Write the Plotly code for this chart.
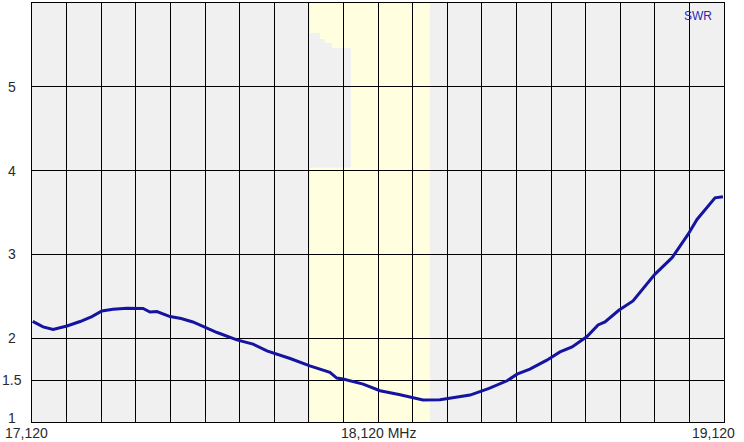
import plotly.graph_objects as go

# Frequency (kHz) and SWR readings
freq_khz = [17122, 17152, 17181, 17221, 17259, 17293, 17322, 17354, 17395, 17441,
            17461, 17481, 17519, 17551, 17585, 17620, 17655, 17712, 17759, 17799,
            17866, 17923, 17981, 18001, 18019, 18077, 18126, 18184, 18221, 18250,
            18299, 18348, 18386, 18441, 18452, 18493, 18522, 18559, 18608, 18646,
            18681, 18704, 18724, 18756, 18776, 18816, 18857, 18920, 18970, 19016,
            19042, 19094, 19117]
swr = [2.20, 2.135, 2.104, 2.146, 2.199, 2.258, 2.325, 2.345, 2.357, 2.354,
       2.313, 2.318, 2.258, 2.235, 2.194, 2.127, 2.068, 1.980, 1.929, 1.849,
       1.758, 1.670, 1.592, 1.524, 1.512, 1.452, 1.373, 1.325, 1.294, 1.262,
       1.265, 1.301, 1.321, 1.401, 1.420, 1.492, 1.571, 1.631, 1.738, 1.837,
       1.896, 1.968, 2.020, 2.158, 2.194, 2.333, 2.444, 2.762, 2.961, 3.238,
       3.417, 3.675, 3.687]

x_range = [17120, 19120]
y_range = [1, 6]
y_tick_vals = [1, 1.5, 2, 3, 4, 5]
y_tick_text = ["1", "1.5", "2", "3", "4", "5"]
x_label_vals = [17120, 18120, 19120]
x_label_text = ["17,120", "18,120 MHz", "19,120"]
band = [17923, 18270]
# gray artefact inside band: (x0, x1, y0, y1)
artefact = [(17923, 18042, 4.036, 5.464), (17923, 17987, 5.46, 5.524),
            (17923, 17967, 5.52, 5.571), (17923, 17952, 5.57, 5.643)]

fig = go.Figure()
fig.add_trace(go.Scatter(x=freq_khz, y=swr, mode="lines",
                         line=dict(color="#1414a0", width=3), hoverinfo="skip"))

shapes = [dict(type="rect", xref="x", yref="y", x0=band[0], x1=band[1],
               y0=y_range[0], y1=y_range[1], fillcolor="#ffffe0",
               line=dict(width=0), layer="below")]
for (a, b, c, d) in artefact:
    shapes.append(dict(type="rect", xref="x", yref="y", x0=a, x1=b, y0=c, y1=d,
                       fillcolor="#f0f0f0", line=dict(width=0), layer="below"))

font = dict(family="Liberation Sans, Arial, sans-serif", size=14, color="#2a2a2a")
annotations = []
for v, t in zip(y_tick_vals, y_tick_text):
    annotations.append(dict(xref="paper", yref="y", x=0, y=v, text=t, showarrow=False,
                            xanchor="center", yanchor="middle", xshift=-20,
                            yshift=4 if v == 1 else 0, font=font))
x_anchor = ["left", "center", "right"]
x_shift = [-29, 0, 13]
for v, t, xa, xs in zip(x_label_vals, x_label_text, x_anchor, x_shift):
    annotations.append(dict(xref="x", yref="paper", x=v, y=0, text=t, showarrow=False,
                            xanchor=xa, yanchor="top", xshift=xs, yshift=-1, font=font))
annotations.append(dict(xref="paper", yref="paper", x=1, y=1, text="SWR", showarrow=False,
                        xanchor="right", yanchor="top", xshift=-10, yshift=-4,
                        font=dict(family="Liberation Sans, Arial, sans-serif", size=12,
                                  color="#2a2ab4")))

fig.update_layout(
    width=744, height=442,
    margin=dict(l=32, r=20, t=3, b=20),
    paper_bgcolor="white", plot_bgcolor="#f0f0f0",
    showlegend=False,
    shapes=shapes, annotations=annotations,
    xaxis=dict(range=x_range, tick0=17120, dtick=100, showgrid=True,
               gridcolor="black", gridwidth=1, showticklabels=False, ticks="",
               showline=True, linecolor="black", linewidth=1, mirror=True,
               zeroline=False, fixedrange=True),
    yaxis=dict(range=y_range, tickmode="array", tickvals=y_tick_vals, showgrid=True,
               gridcolor="black", gridwidth=1, showticklabels=False, ticks="",
               showline=True, linecolor="black", linewidth=1, mirror=True,
               zeroline=False, fixedrange=True),
)

fig.write_html("out.html", config={"displayModeBar": False},
               post_script="document.body.style.margin='0';document.body.style.overflow='hidden';")
